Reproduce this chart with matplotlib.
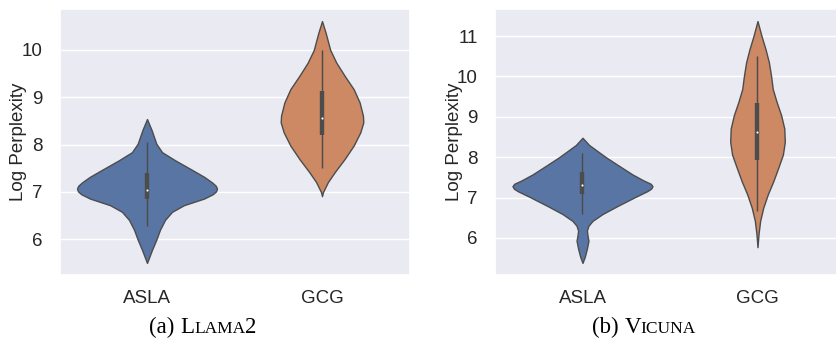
import numpy as np
import matplotlib
matplotlib.use("Agg")
import matplotlib.pyplot as plt
import seaborn as sns

# --- data (half-widths in category units, max 0.4) ---
categories = ["ASLA", "GCG"]

# (a) Llama2
llama_asla_y = [5.50, 5.78, 5.99, 6.20, 6.41, 6.58, 6.72, 6.86, 6.95, 7.01,
                7.07, 7.13, 7.20, 7.32, 7.49, 7.67, 7.84, 8.02, 8.30, 8.54]
llama_asla_w = [0, .029, .053, .074, .103, .143, .211, .326, .375, .394,
                .400, .393, .372, .326, .246, .160, .086, .053, .027, 0]
llama_gcg_y = [6.91, 7.00, 7.21, 7.42, 7.70, 7.98, 8.26, 8.47, 8.61, 8.89,
               9.17, 9.45, 9.73, 10.0, 10.36, 10.61]
llama_gcg_w = [0, .006, .034, .073, .130, .181, .219, .236, .234, .215,
               .181, .130, .082, .047, .021, 0]
# whisker low, q1, median, q3, whisker high
llama_box = [[6.28, 6.86, 7.04, 7.41, 8.05],
             [7.51, 8.21, 8.57, 9.14, 10.0]]

# (b) Vicuna
vicuna_asla_y = [5.38, 5.53, 5.73, 5.93, 6.05, 6.18, 6.30, 6.42, 6.59, 6.79,
                 7.00, 7.16, 7.22, 7.28, 7.34, 7.42, 7.57, 7.81, 8.00, 8.30,
                 8.48]
vicuna_asla_w = [0, .013, .025, .034, .029, .025, .034, .057, .114, .200,
                 .295, .371, .392, .400, .390, .350, .286, .200, .133, .038,
                 0]
vicuna_gcg_y = [5.77, 6.10, 6.42, 6.75, 7.08, 7.40, 7.73, 8.06, 8.38, 8.71,
                9.04, 9.37, 9.69, 10.0, 10.35, 10.67, 11.0, 11.37]
vicuna_gcg_w = [0, .006, .015, .033, .059, .090, .118, .145, .156, .153,
                .135, .109, .087, .078, .065, .046, .023, 0]
vicuna_box = [[6.59, 7.08, 7.30, 7.63, 8.10],
              [6.67, 7.94, 8.62, 9.33, 10.51]]

colors = ["#5875a4", "#cc8963"]
gray = "#4c4c4c"

sns.set_theme(style="darkgrid")
plt.rcParams["font.family"] = ["Liberation Sans", "DejaVu Sans"]

W, H = 836, 346
fig = plt.figure(figsize=(W / 100, H / 100), dpi=100)


def violin_panel(ax, shapes, boxes):
    for i, ((ys, ws), b) in enumerate(zip(shapes, boxes)):
        ys = np.array(ys)
        ws = np.array(ws)
        ax.fill_betweenx(ys, i - ws, i + ws, facecolor=colors[i],
                         edgecolor=gray, lw=1.0, zorder=2)
        lo, q1, med, q3, hi = b
        ax.plot([i, i], [lo, hi], color=gray, lw=1.05, zorder=3,
                solid_capstyle="butt")
        ax.plot([i, i], [q1, q3], color=gray, lw=3.15, zorder=3,
                solid_capstyle="butt")
        ax.scatter([i], [med], s=4.4, color="white", edgecolor=gray,
                   lw=0.5, zorder=4)
    ax.set_xlim(-0.5, 1.5)
    ax.set_xticks(range(len(categories)))
    ax.set_xticklabels(categories)
    ax.xaxis.grid(False)
    ax.tick_params(axis="both", labelsize=13.5, colors="#262626")
    ax.tick_params(axis="y", pad=6.5)
    ax.tick_params(axis="x", pad=4.5)
    ax.set_ylabel("Log Perplexity", fontsize=13.5, color="#262626")


ax1 = fig.add_axes([59.5 / W, 71 / H, 350 / W, 266 / H])
violin_panel(ax1, [(llama_asla_y, llama_asla_w), (llama_gcg_y, llama_gcg_w)],
             llama_box)
ax1.set_yticks([6, 7, 8, 9, 10])

ax2 = fig.add_axes([495 / W, 71 / H, 350 / W, 266 / H])
violin_panel(ax2, [(vicuna_asla_y, vicuna_asla_w), (vicuna_gcg_y, vicuna_gcg_w)],
             vicuna_box)
ax2.set_yticks([6, 7, 8, 9, 10, 11])

for ax in (ax1, ax2):
    ax.yaxis.set_label_coords(-32 / 350, 0.5)


def caption(cx, base, parts):
    """Place a fake small-caps caption centred on pixel x = cx."""
    r = fig.canvas.get_renderer()
    texts = [fig.text(0, 1 - base / H, s, fontsize=sz, va="baseline",
                      ha="left", color="black",
                      family=["Liberation Serif", "DejaVu Serif"])
             for s, sz in parts]
    widths = [t.get_window_extent(r).width for t in texts]
    x = cx - sum(widths) / 2
    for t, w in zip(texts, widths):
        t.set_x(x / W)
        x += w


caption(203, 333, [("(a) ", 16.5), ("L", 16.5), ("LAMA", 12.5), ("2", 16.5)])
caption(644, 333, [("(b) ", 16.5), ("V", 16.5), ("ICUNA", 12.5)])

fig.savefig("out.png", dpi=100)
